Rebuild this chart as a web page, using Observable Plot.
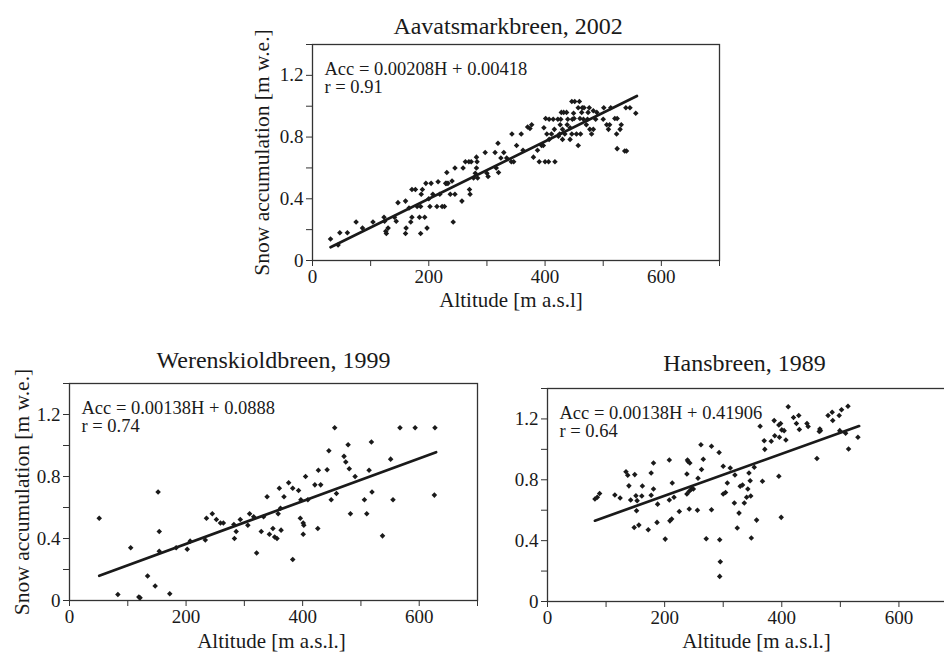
<!DOCTYPE html>
<html><head><meta charset="utf-8">
<script src="https://cdn.jsdelivr.net/npm/d3@7"></script>
<script src="https://cdn.jsdelivr.net/npm/@observablehq/plot@0.6"></script>
<style>
html,body{margin:0;padding:0;background:#fff;overflow:hidden;}
#root{position:relative;width:944px;height:652px;overflow:hidden;background:#fff;}
.panel{position:absolute;overflow:visible;}
.panel svg{max-width:none !important;display:block;overflow:visible;}
svg text{font-family:'Liberation Serif','Times New Roman',serif !important;}
</style></head><body><div id="root"></div>
<script>
// ---- axis ticks ----
const xTicks = [0, 100, 200, 300, 400, 500, 600, 700];
const xTickLabels = ["0", "", "200", "", "400", "", "600", ""];
const yTicks = [0, 0.2, 0.4, 0.6, 0.8, 1.0, 1.2, 1.4];
const yTickLabels = ["0", "", "0.4", "", "0.8", "", "1.2", ""];

// ---- titles / labels ----
const titles = ["Aavatsmarkbreen, 2002", "Werenskioldbreen, 1999", "Hansbreen, 1989"];
const xLabels = ["Altitude [m a.s.l]", "Altitude [m a.s.l.]", "Altitude [m a.s.l.]"];
const yLabel = "Snow accumulation [m w.e.]";
const equations = [
  "Acc = 0.00208H + 0.00418\nr = 0.91",
  "Acc = 0.00138H + 0.0888\nr = 0.74",
  "Acc = 0.00138H + 0.41906\nr = 0.64"
];

// ---- Aavatsmarkbreen 2002: [altitude, accumulation] ----
const aavPoints = [
[31,0.14],[44,0.10],[47,0.18],[60,0.18],[75,0.25],[86,0.21],[104,0.25],[123,0.28],[124,0.255],[126,0.19],
[127,0.175],[130,0.21],[141,0.28],[144,0.255],[147,0.375],[160,0.385],[160,0.175],[161,0.21],[166,0.34],[169,0.25],
[171,0.46],[171,0.28],[177,0.46],[180,0.35],[184,0.28],[186,0.35],[186,0.175],[187,0.43],[189,0.46],[193,0.28],
[195,0.50],[197,0.21],[200,0.40],[202,0.35],[204,0.50],[207,0.43],[214,0.35],[216,0.51],[219,0.43],[223,0.35],
[227,0.35],[229,0.50],[231,0.57],[233,0.50],[237,0.43],[240,0.515],[242,0.25],[245,0.43],[245,0.60],[257,0.385],
[259,0.60],[263,0.64],[269,0.64],[270,0.46],[271,0.43],[273,0.64],[277,0.535],[280,0.565],[282,0.67],[282,0.60],
[283,0.64],[284,0.535],[297,0.70],[300,0.565],[302,0.545],[314,0.70],[316,0.60],[319,0.76],[320,0.57],[324,0.665],
[329,0.70],[334,0.665],[342,0.64],[343,0.82],[346,0.64],[351,0.745],[359,0.82],[362,0.715],[374,0.855],[377,0.88],
[380,0.67],[387,0.715],[390,0.64],[394,0.745],[397,0.745],[398,0.86],[400,0.64],[401,0.92],[403,0.82],[406,0.64],
[407,0.915],[407,0.785],[411,0.82],[414,0.915],[417,0.64],[416,0.85],[422,0.915],[423,0.805],[425,0.82],[426,0.88],
[427,0.915],[428,0.96],[430,0.85],[430,0.785],[434,0.82],[432,0.96],[437,0.96],[438,0.88],[439,0.915],[443,0.785],
[443,0.86],[446,0.82],[446,1.03],[447,0.915],[449,0.955],[450,0.92],[451,1.03],[454,0.82],[457,0.99],[457,0.745],
[459,1.03],[460,0.92],[461,0.82],[463,0.96],[464,0.99],[466,0.915],[467,0.99],[471,0.88],[473,0.915],[474,0.96],
[476,0.99],[477,0.85],[480,0.82],[483,0.85],[483,0.97],[487,0.915],[489,0.96],[500,0.915],[501,0.99],[506,0.88],
[509,0.85],[511,0.88],[513,0.99],[520,0.92],[523,0.82],[524,0.92],[524,0.725],[529,0.85],[531,0.88],[537,0.71],
[539,0.99],[540,0.71],[546,0.99],[556,0.955],[231,0.50],[370,0.865]
];
const aavFit = [[31,0.086],[558,1.066]];

// ---- Werenskioldbreen 1999 ----
const werPoints = [
[51,0.53],[83,0.039],[105,0.34],[119,0.022],[121,0.017],[134,0.158],[147,0.093],[152,0.70],[154,0.445],[154,0.318],
[172,0.043],[183,0.34],[202,0.33],[207,0.383],[233,0.39],[235,0.53],[245,0.56],[252,0.523],[259,0.50],[264,0.50],
[282,0.49],[283,0.40],[286,0.445],[293,0.523],[306,0.486],[309,0.56],[316,0.54],[321,0.307],[329,0.445],[333,0.54],
[339,0.67],[343,0.428],[349,0.465],[352,0.41],[356,0.40],[358,0.56],[360,0.724],[362,0.595],[363,0.454],[368,0.67],
[376,0.76],[383,0.724],[383,0.264],[393,0.71],[396,0.53],[397,0.65],[401,0.50],[402,0.486],[401,0.428],[405,0.80],
[409,0.65],[421,0.746],[426,0.465],[427,0.84],[431,0.746],[442,0.843],[445,0.966],[449,0.65],[455,1.114],[458,0.69],
[471,0.93],[474,0.893],[478,1.005],[480,0.85],[482,0.56],[490,0.80],[506,0.65],[510,0.56],[514,0.84],[518,1.023],
[519,0.70],[537,0.417],[551,0.912],[555,0.65],[567,1.114],[593,1.114],[626,0.68],[627,1.114]
];
const werFit = [[51,0.159],[629,0.957]];

// ---- Hansbreen 1989 ----
const hanPoints = [
[81,0.674],[85,0.685],[89,0.71],[115,0.70],[124,0.68],[134,0.853],[137,0.83],[139,0.76],[142,0.667],[148,0.487],
[149,0.834],[151,0.695],[152,0.597],[153,0.663],[156,0.502],[161,0.693],[162,0.759],[172,0.472],[177,0.845],[177,0.698],
[181,0.74],[181,0.91],[187,0.52],[188,0.64],[201,0.41],[208,0.93],[208,0.667],[209,0.53],[212,0.542],[213,0.779],
[216,0.685],[225,0.592],[238,0.706],[238,0.838],[239,0.93],[240,0.92],[242,0.724],[242,0.608],[243,0.91],[246,0.74],
[249,0.74],[256,0.60],[257,0.81],[262,1.03],[263,0.867],[266,0.935],[271,0.412],[280,1.02],[280,0.603],[293,0.98],
[294,0.406],[295,0.261],[294,0.165],[300,0.889],[300,0.706],[304,0.717],[307,0.779],[312,0.878],[319,0.647],[320,0.832],
[324,0.483],[327,0.581],[329,0.757],[333,0.766],[336,0.647],[340,0.685],[342,0.74],[344,0.845],[346,0.794],[347,0.693],
[348,0.417],[353,0.882],[357,0.535],[363,1.152],[367,0.79],[370,1.057],[371,1.0],[382,1.053],[387,1.189],[388,1.09],
[395,0.823],[395,1.16],[396,1.08],[398,1.17],[399,0.553],[400,1.128],[404,1.123],[407,1.062],[411,1.28],[420,1.21],
[425,1.17],[429,1.222],[430,1.13],[443,1.17],[445,1.15],[460,0.94],[464,1.117],[465,1.134],[466,1.123],[479,1.222],
[486,1.244],[487,1.19],[498,1.222],[502,1.26],[499,1.123],[509,1.106],[513,1.283],[514,1.003],[530,1.08]
];
const hanFit = [[81,0.531],[532,1.153]];

const INK = "#1a1a1a";
const FONT = "Liberation Serif";
const xFmt = new Map(xTicks.map((t, i) => [t, xTickLabels[i]]));
const yFmt = new Map(yTicks.map((t, i) => [t, yTickLabels[i]]));

function panel(cfg) {
  const marks = [
    Plot.axisX({ticks: xTicks, tickFormat: d => xFmt.get(d) ?? "", tickSize: 6, tickPadding: 3, label: null, fontSize: 19, fontFamily: FONT, stroke: "#333", fill: INK}),
    Plot.axisY({ticks: yTicks, tickFormat: d => yFmt.get(d) ?? "", tickSize: 6, tickPadding: 3, label: null, fontSize: 19, fontFamily: FONT, stroke: "#333", fill: INK}),
    Plot.frame({stroke: "#333", strokeWidth: 1.3}),
    Plot.dot(cfg.points, {x: d => d[0], y: d => d[1], symbol: "diamond2", r: 2.5, fill: INK, stroke: "none"}),
    Plot.line(cfg.fit, {x: d => d[0], y: d => d[1], stroke: INK, strokeWidth: 2.7}),
    Plot.text([cfg.eq], {frameAnchor: "top-left", textAnchor: "start", lineAnchor: "top", dx: 12, dy: 17, fontSize: 18.5, fontFamily: FONT, lineHeight: 1.0, fill: INK}),
    Plot.text([cfg.title], {frameAnchor: "top", textAnchor: "middle", lineAnchor: "bottom", dx: cfg.titleDx, dy: cfg.titleDy, fontSize: 24, fontFamily: FONT, fill: INK}),
    Plot.text([cfg.xLabel], {frameAnchor: "bottom", textAnchor: "middle", lineAnchor: "bottom", dx: cfg.xLabelDx, dy: cfg.xLabelDy, fontSize: 21, fontFamily: FONT, fill: INK})
  ];
  if (cfg.yLabel) {
    marks.push(Plot.text([cfg.yLabel], {frameAnchor: "left", rotate: -90, textAnchor: "middle", lineAnchor: "middle", dx: cfg.yLabelDx, fontSize: 21.5, fontFamily: FONT, fill: INK}));
  }
  const svg = Plot.plot({
    width: cfg.width, height: cfg.height,
    marginLeft: cfg.ml, marginRight: cfg.mr, marginTop: cfg.mt, marginBottom: cfg.mb,
    x: {domain: [0, 700]},
    y: {domain: [0, 1.4]},
    style: {fontFamily: FONT, fontSize: "19px", color: "#222", background: "transparent", overflow: "visible", maxWidth: "none"},
    marks
  });
  svg.style.maxWidth = "none";
  svg.style.width = cfg.width + "px";
  svg.style.height = cfg.height + "px";
  const div = document.createElement("div");
  div.className = "panel";
  div.style.left = cfg.left + "px";
  div.style.top = cfg.top + "px";
  div.style.width = cfg.width + "px";
  div.style.height = cfg.height + "px";
  div.appendChild(svg);
  document.getElementById("root").appendChild(div);
}

panel({points: aavPoints, fit: aavFit, title: titles[0], xLabel: xLabels[0], yLabel: yLabel, eq: equations[0],
  left: 232, top: 0, width: 512, height: 330, ml: 80, mr: 25, mt: 44, mb: 70,
  titleDx: -8, titleDy: -11, xLabelDx: -5, xLabelDy: 46, yLabelDx: -50});
panel({points: werPoints, fit: werFit, title: titles[1], xLabel: xLabels[1], yLabel: yLabel, eq: equations[1],
  left: 0, top: 340, width: 500, height: 312, ml: 69, mr: 23, mt: 43, mb: 52,
  titleDx: 0, titleDy: -16, xLabelDx: -2, xLabelDy: 47, yLabelDx: -47});
panel({points: hanPoints, fit: hanFit, title: titles[2], xLabel: xLabels[2], yLabel: null, eq: equations[2],
  left: 480, top: 340, width: 500, height: 312, ml: 67, mr: 23, mt: 48, mb: 51,
  titleDx: -8, titleDy: -18, xLabelDx: 4, xLabelDy: 46});
</script></body></html>
